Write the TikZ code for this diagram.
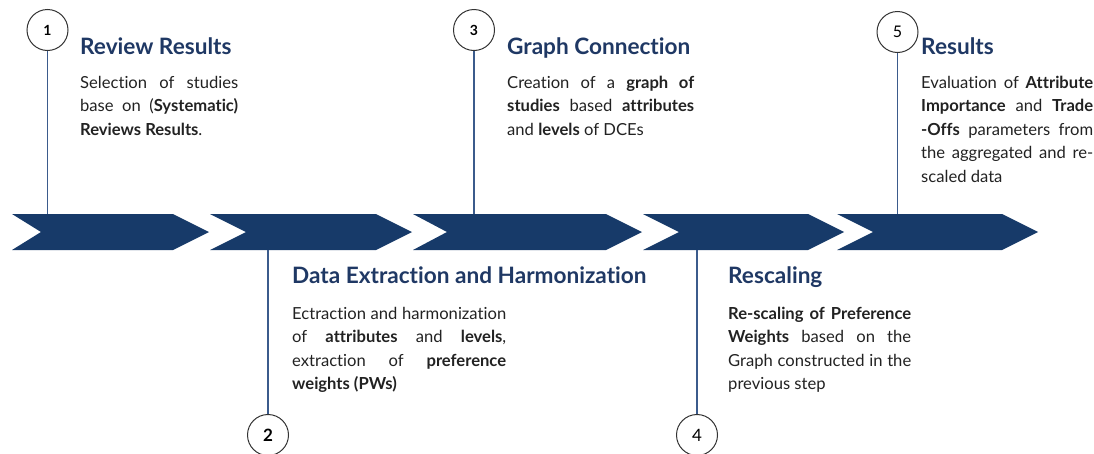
\documentclass[tikz,border=0pt]{standalone}
\usepackage{fontspec}
\setmainfont{Lato}[Ligatures=NoCommon]
\definecolor{band}{HTML}{173A69}
\definecolor{heading}{HTML}{1F3864}
\definecolor{stemcol}{HTML}{3B5B8C}
\definecolor{bodytext}{HTML}{222222}
\tikzset{
  chevron/.style={fill=band, draw=none},
  stepcircle/.style={circle, draw=black!80, line width=1pt, minimum size=41pt, inner sep=0pt, fill=white},
  stem/.style={draw=stemcol, line width=1.8pt},
  heading/.style={anchor=base west, inner sep=0pt, text=heading, font=\fontsize{22.6}{27}\selectfont\bfseries},
  body/.style={anchor=base west, inner sep=0pt, text=bodytext, font=\fontsize{16.6}{23.5}\selectfont},
}
\newcommand{\chev}[4]{% left, notch, right, tip depth
  \fill[chevron] (#1,214) -- (#3-#4,214) -- (#3,232) -- (#3-#4,250) -- (#1,250) -- (#2,232) -- cycle;}
\newcommand{\para}[2]{\parbox[t]{#1pt}{\noindent\emergencystretch=20pt\hbadness=10000\hyphenpenalty=10000\exhyphenpenalty=10000 #2}}
\begin{document}
\begin{tikzpicture}[x=1pt, y=-1pt]
\useasboundingbox (0,0) rectangle (1094,453);

% arrow band
\chev{12}{41}{209}{36}
\chev{210}{246}{412}{36}
\chev{413}{447}{642}{36}
\chev{643}{679}{844}{36}
\chev{837}{873}{1038}{36}

% step markers above the band
\node[stepcircle, font=\fontsize{14}{16}\selectfont\bfseries] (c1) at (47.5,30) {1};
\node[stepcircle, font=\fontsize{14}{16}\selectfont\bfseries] (c3) at (474,30) {3};
\node[stepcircle, font=\fontsize{16}{18}\selectfont] (c5) at (897.5,32) {5};
% step markers below the band
\node[stepcircle, font=\fontsize{17}{19}\selectfont\bfseries] (c2) at (268,435) {2};
\node[stepcircle, font=\fontsize{17}{19}\selectfont] (c4) at (697,435) {4};

\coordinate (b1) at (47.5,214);
\coordinate (b3) at (474,214);
\coordinate (b5) at (897.5,214);
\coordinate (b2) at (268,250);
\coordinate (b4) at (697,250);

\draw[stem] (c1.south) -- (b1);
\draw[stem] (c3.south) -- (b3);
\draw[stem] (c5.south) -- (b5);
\draw[stem] (c2.north) -- (b2);
\draw[stem] (c4.north) -- (b4);

% step 1
\node[heading] (h1) at (80,54) {Review Results};
\node[body] (t1) at (80,88) {\para{158}{Selection of studies\linebreak base on (\textbf{Systematic)}\linebreak \textbf{Reviews Results}.}};

% step 3
\node[heading] (h3) at (507,54) {Graph Connection};
\node[body] (t3) at (507,88) {\para{187}{Creation of a \textbf{graph of}\linebreak \textbf{studies} based \textbf{attributes}\linebreak and \textbf{levels} of DCEs}};

% step 5
\node[heading] (h5) at (921,54) {Results};
\node[body] (t5) at (921,88) {\para{172}{Evaluation of \textbf{Attribute}\linebreak \textbf{Importance} and \textbf{Trade}\linebreak \textbf{-Offs} parameters from\linebreak the aggregated and re-\linebreak scaled data}};

% step 2
\node[heading] (h2) at (292,283) {Data Extraction and Harmonization};
\node[body] (t2) at (292,319) {\para{214}{Ectraction and harmonization\linebreak of \textbf{attributes} and \textbf{levels},\linebreak extraction of \textbf{preference}\linebreak \textbf{weights (PWs)}}};

% step 4
\node[heading] (h4) at (728,283) {Rescaling};
\node[body] (t4) at (728,319) {\para{183}{\textbf{Re-scaling of Preference}\linebreak \textbf{Weights} based on the\linebreak Graph constructed in the\linebreak previous step}};
\end{tikzpicture}
\end{document}
